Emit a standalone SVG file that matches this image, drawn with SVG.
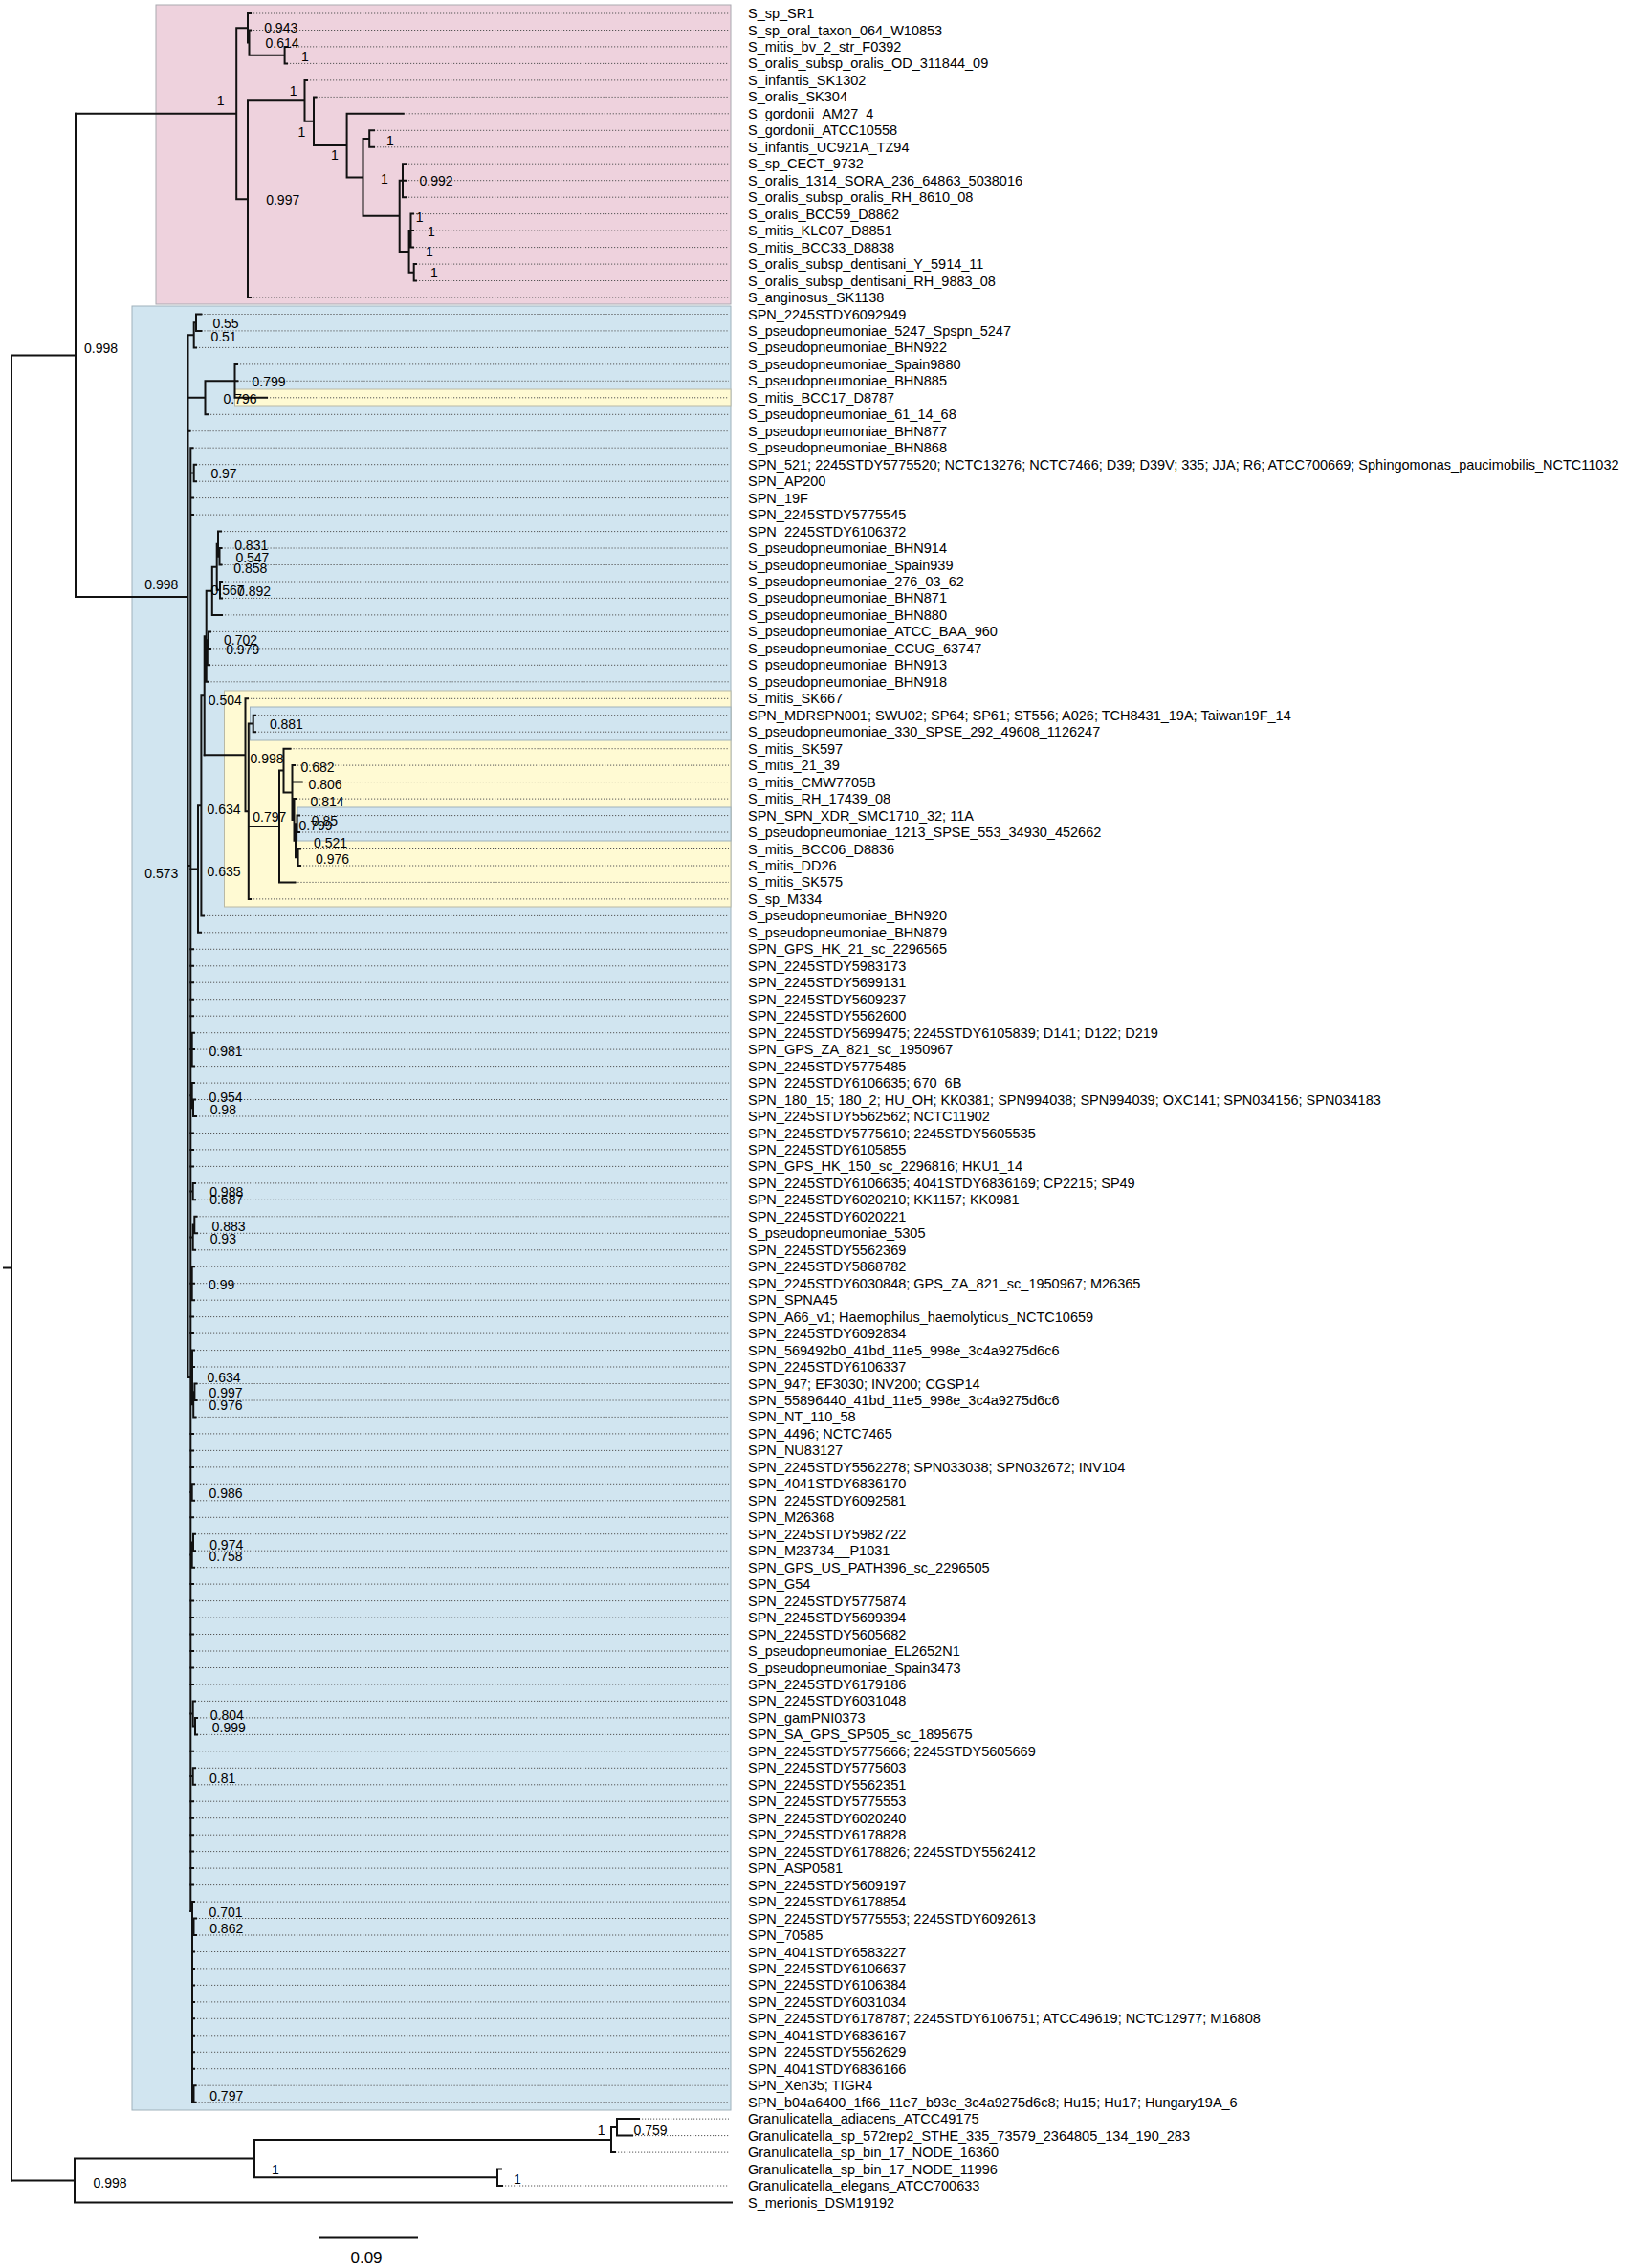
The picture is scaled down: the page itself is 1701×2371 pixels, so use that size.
<svg xmlns="http://www.w3.org/2000/svg" width="1701" height="2371" viewBox="0 0 1701 2371">
<style>
.br{fill:none;stroke:#111;stroke-width:2;stroke-linecap:square}
.dot{fill:none;stroke:#555;stroke-width:1;stroke-dasharray:1.2 1.8}
.tip{font-family:"Liberation Sans",Arial,sans-serif;font-size:14.5px;fill:#000}
.nl{font-family:"Liberation Sans",Arial,sans-serif;font-size:14px;fill:#000;text-anchor:middle}
.pink{fill:#eed2dd;stroke:#a9a9b0;stroke-width:1}
.blue{fill:#d1e5f0;stroke:#9fb1bb;stroke-width:1}
.yel{fill:#fffad3;stroke:#b9b9a5;stroke-width:1}
</style>
<rect width="1701" height="2371" fill="#fff"/>
<g id="boxes">
<rect class="pink" x="163" y="5" width="601" height="313"/>
<rect class="blue" x="138" y="320" width="626" height="1886"/>
<rect class="yel" x="245.5" y="407" width="518.5" height="17"/>
<rect class="yel" x="234.5" y="722" width="529.5" height="226"/>
<rect class="blue" x="261.5" y="739" width="502.5" height="35"/>
<rect class="blue" x="311" y="844" width="453" height="35"/>
</g>
<g id="connectors">
<path class="dot" d="M262 14H762M262 31.5H762M300 48.9H762M300 66.4H762M321 83.9H762M330.5 101.4H762M421.7 118.8H762M391 136.3H762M391 153.8H762M424 171.2H762M424 188.7H762M424 206.2H762M432 223.6H762M432 241.1H762M432 258.6H762M435 276.1H762M435 293.5H762M262 311H762M210.4 328.5H762M210.4 345.9H762M205 363.4H762M248 380.9H762M248.4 398.3H762M279 415.8H762M217 433.3H762M198.5 450.7H762M201.5 468.2H762M205 485.7H762M205 503.2H762M202 520.6H762M202 538.1H762M231 555.6H762M231.5 573H762M231.5 590.5H762M232 608H762M232 625.4H762M232 642.9H762M220 660.4H762M220 677.9H762M219 695.3H762M217.5 712.8H762M259 730.3H762M267 747.7H762M267 765.2H762M303.5 782.7H762M308 800.1H762M315.7 817.6H762M310 835.1H762M313 852.6H762M313 870H762M314 887.5H762M314 905H762M308.4 922.4H762M262 939.9H762M213 957.4H762M210 974.8H762M202 992.3H762M202 1009.8H762M202 1027.2H762M202 1044.7H762M202 1062.2H762M203 1079.7H762M203 1097.1H762M203 1114.6H762M203 1132.1H762M204 1149.5H762M205 1167H762M202 1184.5H762M202 1201.9H762M202 1219.4H762M204 1236.9H762M204 1254.3H762M205.5 1271.8H762M206 1289.3H762M204 1306.8H762M203 1324.2H762M203 1341.7H762M203 1359.2H762M202 1376.6H762M202 1394.1H762M203 1411.6H762M203 1429H762M205.5 1446.5H762M205.5 1464H762M204.5 1481.4H762M202 1498.9H762M202 1516.4H762M202 1533.9H762M203 1551.3H762M203 1568.8H762M202 1586.3H762M204 1603.7H762M204 1621.2H762M203 1638.7H762M202 1656.1H762M202 1673.6H762M202 1691.1H762M202 1708.5H762M202 1726H762M202 1743.5H762M202 1761H762M204 1778.4H762M206 1795.9H762M206 1813.4H762M202 1830.8H762M204 1848.3H762M204 1865.8H762M202 1883.2H762M202 1900.7H762M202 1918.2H762M202 1935.6H762M202 1953.1H762M202 1970.6H762M203 1988.1H762M205 2005.5H762M205 2023H762M203 2040.5H762M203 2057.9H762M203 2075.4H762M203 2092.9H762M203 2110.3H762M203 2127.8H762M203 2145.3H762M203 2162.7H762M204.5 2180.2H762M204.5 2197.7H762M668 2215.1H762M661 2232.6H762M643 2250.1H762M524 2267.5H762M525 2285H762"/>
<path class="br" d="M4 1325.5H12M12 371.4V2279.6M12 371.4H79M79 118.7V624"/>
<path class="br" d="M79 118.7H247.2M247.2 29.3V208.2M247.2 29.3H259M259 14V44.6M259 14H262M259 44.6H260.5M260.5 31.5V57.65M260.5 31.5H262M260.5 57.65H297.6M297.6 48.9V66.4M297.6 48.9H300M297.6 66.4H300M247.2 208.2H259M259 105.3V311M259 311H262M259 105.3H318.5M318.5 83.9V126.75M318.5 83.9H321M318.5 126.75H328M328 101.4V152.1M328 101.4H330.5M328 152.1H362.6M362.6 118.8V185.4M362.6 118.8H421.7M362.6 185.4H379.5M379.5 145V225.8M379.5 145H386.2M386.2 136.3V153.8M386.2 136.3H391M386.2 153.8H391M379.5 225.8H417.7M417.7 188.7V262.95M417.7 188.7H421M421 171.2V206.2M421 171.2H424M421 188.7H424M421 206.2H424M417.7 262.95H427.6M427.6 241.1V284.8M427.6 241.1H429.5M429.5 223.6V258.6M429.5 223.6H432M429.5 241.1H432M429.5 258.6H432M427.6 284.8H432.7M432.7 276.1V293.5M432.7 276.1H435M432.7 293.5H435"/>
<path class="br" d="M79 624H196.5M196.5 350.3V1440M196.5 350.3H202.7M202.7 337.2V363.4M202.7 337.2H205M205 328.5V345.9M205 328.5H210.4M205 345.9H210.4M202.7 363.4H205M196.5 415.8H214.5M214.5 398.3V433.3M214.5 398.3H245.5M245.5 380.9V415.8M245.5 380.9H248M245.5 398.3H248.4M245.5 415.8H279M214.5 433.3H217M196.5 450.7H198.5M196.5 905H199.3M199.3 468.2V1998M199.3 468.2H201.5M199.3 494.4H202.7M202.7 485.7V503.2M202.7 485.7H205M202.7 503.2H205M199.3 520.6H202M199.3 538.1H202"/>
<path class="br" d="M199.3 908.55H207M207 842.3V974.8M207 974.8H210M207 842.3H210.4M210.4 727.25V957.4M210.4 957.4H213M210.4 727.25H213.7M213.7 665.3V789.25M213.7 665.3H215.7M215.7 617.8V712.8M215.7 712.8H217.5M215.7 617.8H221.8M221.8 592.7V642.9M221.8 642.9H232M221.8 592.7H226.7M226.7 568.7V616.7M226.7 568.7H228M228 555.6V581.75M228 555.6H231M228 581.75H229.5M229.5 573V590.5M229.5 573H231.5M229.5 590.5H231.5M226.7 616.7H230M230 608V625.4M230 608H232M230 625.4H232M215.7 682.2H216.8M216.8 669.15V695.3M216.8 695.3H219M216.8 669.15H218M218 660.4V677.9M218 660.4H220M218 677.9H220"/>
<path class="br" d="M213.7 789.25H256.5M256.5 730.3V848.2M256.5 730.3H259M256.5 848.2H259.8M259.8 756.5V939.9M259.8 939.9H262M259.8 756.5H264.7M264.7 747.7V765.2M264.7 747.7H267M264.7 765.2H267M259.8 864H292M292 805.6V922.4M292 922.4H308.4M292 805.6H296.5M296.5 782.7V828.55M296.5 782.7H303.5M296.5 828.55H305.5M305.5 800.1V857M305.5 800.1H308M305.5 817.6H315.7M305.5 857H307.5M307.5 835.1V878.8M307.5 835.1H310M307.5 878.8H309M309 861.3V896.25M309 861.3H310.5M310.5 852.6V870M310.5 852.6H313M310.5 870H313M309 896.25H311.6M311.6 887.5V905M311.6 887.5H314M311.6 905H314"/>
<path class="br" d="M199.3 992.3H202M199.3 1009.8H202M199.3 1027.2H202M199.3 1044.7H202M199.3 1062.2H202M199.3 1097.1H200.7M200.7 1079.7V1114.6M200.7 1079.7H203M200.7 1097.1H203M200.7 1114.6H203M199.3 1145.2H200.7M200.7 1132.1V1158.3M200.7 1132.1H203M200.7 1158.3H202M202 1149.5V1167M202 1149.5H204M202 1167H205M199.3 1184.5H202M199.3 1201.9H202M199.3 1219.4H202M199.3 1245.6H201.7M201.7 1236.9V1254.3M201.7 1236.9H204M201.7 1254.3H204M199.3 1293.6H201.7M201.7 1280.5V1306.8M201.7 1306.8H204M201.7 1280.5H203.3M203.3 1271.8V1289.3M203.3 1271.8H205.5M203.3 1289.3H206M199.3 1341.7H200.7M200.7 1324.2V1359.2M200.7 1324.2H203M200.7 1341.7H203M200.7 1359.2H203M199.3 1376.6H202M199.3 1394.1H202"/>
<path class="br" d="M196.5 1440H201M201 1411.6V1468.3M201 1411.6H203M201 1429H203M201 1468.3H202.2M202.2 1455.3V1481.4M202.2 1481.4H204.5M202.2 1455.3H203.4M203.4 1446.5V1464M203.4 1446.5H205.5M203.4 1464H205.5M199.3 1498.9H202M199.3 1516.4H202M199.3 1533.9H202M199.3 1560H200.7M200.7 1551.3V1568.8M200.7 1551.3H203M200.7 1568.8H203M199.3 1586.3H202M199.3 1625.6H200.7M200.7 1612.5V1638.7M200.7 1638.7H203M200.7 1612.5H202M202 1603.7V1621.2M202 1603.7H204M202 1621.2H204M199.3 1656.1H202M199.3 1673.6H202M199.3 1691.1H202M199.3 1708.5H202M199.3 1726H202M199.3 1743.5H202M199.3 1761H202M199.3 1791.5H201.7M201.7 1778.4V1804.6M201.7 1778.4H204M201.7 1804.6H204M204 1795.9V1813.4M204 1795.9H206M204 1813.4H206M199.3 1830.8H202M199.3 1857H201.7M201.7 1848.3V1865.8M201.7 1848.3H204M201.7 1865.8H204M199.3 1883.2H202M199.3 1900.7H202M199.3 1918.2H202M199.3 1935.6H202M199.3 1953.1H202M199.3 1970.6H202"/>
<path class="br" d="M199.3 1998H201M201 1988.1V2197.7M201 1988.1H203M201 2014.25H202.5M202.5 2005.5V2023M202.5 2005.5H205M202.5 2023H205M201 2040.5H203M201 2057.9H203M201 2075.4H203M201 2092.9H203M201 2110.3H203M201 2127.8H203M201 2145.3H203M201 2162.7H203M201 2189H202.5M202.5 2180.2V2197.7M202.5 2180.2H204.5M202.5 2197.7H204.5"/>
<path class="br" d="M12 2279.6H78M78 2256.6V2302.5M78 2302.5H765M78 2256.6H266M266 2237V2276.3M266 2237H639M639 2223.9V2250.1M639 2250.1H643M639 2223.9H645M645 2215.1V2232.6M645 2215.1H668M645 2232.6H661M266 2276.3H520M520 2267.5V2285M520 2267.5H524M520 2285H525"/>
</g>
<g id="support">
<text class="nl" x="293.7" y="34.3">0.943</text>
<text class="nl" x="295" y="50">0.614</text>
<text class="nl" x="319" y="64.3">1</text>
<text class="nl" x="230.7" y="110">1</text>
<text class="nl" x="306.7" y="100">1</text>
<text class="nl" x="315.4" y="143.3">1</text>
<text class="nl" x="350" y="166.7">1</text>
<text class="nl" x="407.9" y="151.7">1</text>
<text class="nl" x="402" y="191.7">1</text>
<text class="nl" x="456" y="194.3">0.992</text>
<text class="nl" x="438.6" y="231.7">1</text>
<text class="nl" x="451" y="246.7">1</text>
<text class="nl" x="449" y="268">1</text>
<text class="nl" x="454" y="290">1</text>
<text class="nl" x="295.7" y="214">0.997</text>
<text class="nl" x="105.5" y="369">0.998</text>
<text class="nl" x="168.8" y="616">0.998</text>
<text class="nl" x="236" y="343.3">0.55</text>
<text class="nl" x="234" y="356.7">0.51</text>
<text class="nl" x="281" y="404.3">0.799</text>
<text class="nl" x="251" y="421.7">0.796</text>
<text class="nl" x="234" y="500">0.97</text>
<text class="nl" x="262.7" y="575">0.831</text>
<text class="nl" x="263.9" y="587.7">0.547</text>
<text class="nl" x="261.8" y="599">0.858</text>
<text class="nl" x="238" y="622">0.567</text>
<text class="nl" x="265.5" y="623">0.892</text>
<text class="nl" x="251.6" y="674.3">0.702</text>
<text class="nl" x="253.7" y="684.3">0.979</text>
<text class="nl" x="235.3" y="737.3">0.504</text>
<text class="nl" x="299.4" y="762.3">0.881</text>
<text class="nl" x="279" y="797.7">0.998</text>
<text class="nl" x="332" y="806.7">0.682</text>
<text class="nl" x="340" y="825">0.806</text>
<text class="nl" x="342" y="843.3">0.814</text>
<text class="nl" x="234" y="850.7">0.634</text>
<text class="nl" x="281.8" y="859">0.797</text>
<text class="nl" x="339.4" y="862.7">0.85</text>
<text class="nl" x="330" y="868.3">0.799</text>
<text class="nl" x="345.5" y="885.7">0.521</text>
<text class="nl" x="347.5" y="902.7">0.976</text>
<text class="nl" x="234" y="915.7">0.635</text>
<text class="nl" x="168.8" y="917.7">0.573</text>
<text class="nl" x="236" y="1103.8">0.981</text>
<text class="nl" x="236" y="1151.5">0.954</text>
<text class="nl" x="233.3" y="1165">0.98</text>
<text class="nl" x="236.7" y="1250.7">0.988</text>
<text class="nl" x="236.7" y="1258.9">0.687</text>
<text class="nl" x="239" y="1286.6">0.883</text>
<text class="nl" x="233.3" y="1299.7">0.93</text>
<text class="nl" x="231.7" y="1347.9">0.99</text>
<text class="nl" x="234" y="1444.6">0.634</text>
<text class="nl" x="236" y="1461">0.997</text>
<text class="nl" x="236" y="1474.4">0.976</text>
<text class="nl" x="236" y="1565.8">0.986</text>
<text class="nl" x="236.7" y="1619.5">0.974</text>
<text class="nl" x="236" y="1631.7">0.758</text>
<text class="nl" x="237.3" y="1797.9">0.804</text>
<text class="nl" x="239.3" y="1810.5">0.999</text>
<text class="nl" x="232.7" y="1863.6">0.81</text>
<text class="nl" x="236" y="2004.4">0.701</text>
<text class="nl" x="236.7" y="2020.7">0.862</text>
<text class="nl" x="236.7" y="2195.8">0.797</text>
<text class="nl" x="680" y="2231.7">0.759</text>
<text class="nl" x="628.6" y="2231.7">1</text>
<text class="nl" x="288" y="2273">1</text>
<text class="nl" x="541" y="2283">1</text>
<text class="nl" x="115" y="2287">0.998</text>
</g>
<g id="scalebar">
<path class="br" d="M334 2339.5H436"/>
<text x="383" y="2366" font-family="Liberation Sans, Arial, sans-serif" font-size="17" text-anchor="middle">0.09</text>
</g>
<g id="tips">
<g id="t1"><text class="tip" x="782" y="19">S_sp_SR1</text></g>
<g id="t2"><text class="tip" x="782" y="36.5">S_sp_oral_taxon_064_W10853</text></g>
<g id="t3"><text class="tip" x="782" y="53.9">S_mitis_bv_2_str_F0392</text></g>
<g id="t4"><text class="tip" x="782" y="71.4">S_oralis_subsp_oralis_OD_311844_09</text></g>
<g id="t5"><text class="tip" x="782" y="88.9">S_infantis_SK1302</text></g>
<g id="t6"><text class="tip" x="782" y="106.4">S_oralis_SK304</text></g>
<g id="t7"><text class="tip" x="782" y="123.8">S_gordonii_AM27_4</text></g>
<g id="t8"><text class="tip" x="782" y="141.3">S_gordonii_ATCC10558</text></g>
<g id="t9"><text class="tip" x="782" y="158.8">S_infantis_UC921A_TZ94</text></g>
<g id="t10"><text class="tip" x="782" y="176.2">S_sp_CECT_9732</text></g>
<g id="t11"><text class="tip" x="782" y="193.7">S_oralis_1314_SORA_236_64863_5038016</text></g>
<g id="t12"><text class="tip" x="782" y="211.2">S_oralis_subsp_oralis_RH_8610_08</text></g>
<g id="t13"><text class="tip" x="782" y="228.6">S_oralis_BCC59_D8862</text></g>
<g id="t14"><text class="tip" x="782" y="246.1">S_mitis_KLC07_D8851</text></g>
<g id="t15"><text class="tip" x="782" y="263.6">S_mitis_BCC33_D8838</text></g>
<g id="t16"><text class="tip" x="782" y="281.1">S_oralis_subsp_dentisani_Y_5914_11</text></g>
<g id="t17"><text class="tip" x="782" y="298.5">S_oralis_subsp_dentisani_RH_9883_08</text></g>
<g id="t18"><text class="tip" x="782" y="316">S_anginosus_SK1138</text></g>
<g id="t19"><text class="tip" x="782" y="333.5">SPN_2245STDY6092949</text></g>
<g id="t20"><text class="tip" x="782" y="350.9">S_pseudopneumoniae_5247_Spspn_5247</text></g>
<g id="t21"><text class="tip" x="782" y="368.4">S_pseudopneumoniae_BHN922</text></g>
<g id="t22"><text class="tip" x="782" y="385.9">S_pseudopneumoniae_Spain9880</text></g>
<g id="t23"><text class="tip" x="782" y="403.3">S_pseudopneumoniae_BHN885</text></g>
<g id="t24"><text class="tip" x="782" y="420.8">S_mitis_BCC17_D8787</text></g>
<g id="t25"><text class="tip" x="782" y="438.3">S_pseudopneumoniae_61_14_68</text></g>
<g id="t26"><text class="tip" x="782" y="455.7">S_pseudopneumoniae_BHN877</text></g>
<g id="t27"><text class="tip" x="782" y="473.2">S_pseudopneumoniae_BHN868</text></g>
<g id="t28"><text class="tip" x="782" y="490.7">SPN_521; 2245STDY5775520; NCTC13276; NCTC7466; D39; D39V; 335; JJA; R6; ATCC700669; Sphingomonas_paucimobilis_NCTC11032</text></g>
<g id="t29"><text class="tip" x="782" y="508.2">SPN_AP200</text></g>
<g id="t30"><text class="tip" x="782" y="525.6">SPN_19F</text></g>
<g id="t31"><text class="tip" x="782" y="543.1">SPN_2245STDY5775545</text></g>
<g id="t32"><text class="tip" x="782" y="560.6">SPN_2245STDY6106372</text></g>
<g id="t33"><text class="tip" x="782" y="578">S_pseudopneumoniae_BHN914</text></g>
<g id="t34"><text class="tip" x="782" y="595.5">S_pseudopneumoniae_Spain939</text></g>
<g id="t35"><text class="tip" x="782" y="613">S_pseudopneumoniae_276_03_62</text></g>
<g id="t36"><text class="tip" x="782" y="630.4">S_pseudopneumoniae_BHN871</text></g>
<g id="t37"><text class="tip" x="782" y="647.9">S_pseudopneumoniae_BHN880</text></g>
<g id="t38"><text class="tip" x="782" y="665.4">S_pseudopneumoniae_ATCC_BAA_960</text></g>
<g id="t39"><text class="tip" x="782" y="682.9">S_pseudopneumoniae_CCUG_63747</text></g>
<g id="t40"><text class="tip" x="782" y="700.3">S_pseudopneumoniae_BHN913</text></g>
<g id="t41"><text class="tip" x="782" y="717.8">S_pseudopneumoniae_BHN918</text></g>
<g id="t42"><text class="tip" x="782" y="735.3">S_mitis_SK667</text></g>
<g id="t43"><text class="tip" x="782" y="752.7">SPN_MDRSPN001; SWU02; SP64; SP61; ST556; A026; TCH8431_19A; Taiwan19F_14</text></g>
<g id="t44"><text class="tip" x="782" y="770.2">S_pseudopneumoniae_330_SPSE_292_49608_1126247</text></g>
<g id="t45"><text class="tip" x="782" y="787.7">S_mitis_SK597</text></g>
<g id="t46"><text class="tip" x="782" y="805.1">S_mitis_21_39</text></g>
<g id="t47"><text class="tip" x="782" y="822.6">S_mitis_CMW7705B</text></g>
<g id="t48"><text class="tip" x="782" y="840.1">S_mitis_RH_17439_08</text></g>
<g id="t49"><text class="tip" x="782" y="857.6">SPN_SPN_XDR_SMC1710_32; 11A</text></g>
<g id="t50"><text class="tip" x="782" y="875">S_pseudopneumoniae_1213_SPSE_553_34930_452662</text></g>
<g id="t51"><text class="tip" x="782" y="892.5">S_mitis_BCC06_D8836</text></g>
<g id="t52"><text class="tip" x="782" y="910">S_mitis_DD26</text></g>
<g id="t53"><text class="tip" x="782" y="927.4">S_mitis_SK575</text></g>
<g id="t54"><text class="tip" x="782" y="944.9">S_sp_M334</text></g>
<g id="t55"><text class="tip" x="782" y="962.4">S_pseudopneumoniae_BHN920</text></g>
<g id="t56"><text class="tip" x="782" y="979.8">S_pseudopneumoniae_BHN879</text></g>
<g id="t57"><text class="tip" x="782" y="997.3">SPN_GPS_HK_21_sc_2296565</text></g>
<g id="t58"><text class="tip" x="782" y="1014.8">SPN_2245STDY5983173</text></g>
<g id="t59"><text class="tip" x="782" y="1032.2">SPN_2245STDY5699131</text></g>
<g id="t60"><text class="tip" x="782" y="1049.7">SPN_2245STDY5609237</text></g>
<g id="t61"><text class="tip" x="782" y="1067.2">SPN_2245STDY5562600</text></g>
<g id="t62"><text class="tip" x="782" y="1084.7">SPN_2245STDY5699475; 2245STDY6105839; D141; D122; D219</text></g>
<g id="t63"><text class="tip" x="782" y="1102.1">SPN_GPS_ZA_821_sc_1950967</text></g>
<g id="t64"><text class="tip" x="782" y="1119.6">SPN_2245STDY5775485</text></g>
<g id="t65"><text class="tip" x="782" y="1137.1">SPN_2245STDY6106635; 670_6B</text></g>
<g id="t66"><text class="tip" x="782" y="1154.5">SPN_180_15; 180_2; HU_OH; KK0381; SPN994038; SPN994039; OXC141; SPN034156; SPN034183</text></g>
<g id="t67"><text class="tip" x="782" y="1172">SPN_2245STDY5562562; NCTC11902</text></g>
<g id="t68"><text class="tip" x="782" y="1189.5">SPN_2245STDY5775610; 2245STDY5605535</text></g>
<g id="t69"><text class="tip" x="782" y="1206.9">SPN_2245STDY6105855</text></g>
<g id="t70"><text class="tip" x="782" y="1224.4">SPN_GPS_HK_150_sc_2296816; HKU1_14</text></g>
<g id="t71"><text class="tip" x="782" y="1241.9">SPN_2245STDY6106635; 4041STDY6836169; CP2215; SP49</text></g>
<g id="t72"><text class="tip" x="782" y="1259.3">SPN_2245STDY6020210; KK1157; KK0981</text></g>
<g id="t73"><text class="tip" x="782" y="1276.8">SPN_2245STDY6020221</text></g>
<g id="t74"><text class="tip" x="782" y="1294.3">S_pseudopneumoniae_5305</text></g>
<g id="t75"><text class="tip" x="782" y="1311.8">SPN_2245STDY5562369</text></g>
<g id="t76"><text class="tip" x="782" y="1329.2">SPN_2245STDY5868782</text></g>
<g id="t77"><text class="tip" x="782" y="1346.7">SPN_2245STDY6030848; GPS_ZA_821_sc_1950967; M26365</text></g>
<g id="t78"><text class="tip" x="782" y="1364.2">SPN_SPNA45</text></g>
<g id="t79"><text class="tip" x="782" y="1381.6">SPN_A66_v1; Haemophilus_haemolyticus_NCTC10659</text></g>
<g id="t80"><text class="tip" x="782" y="1399.1">SPN_2245STDY6092834</text></g>
<g id="t81"><text class="tip" x="782" y="1416.6">SPN_569492b0_41bd_11e5_998e_3c4a9275d6c6</text></g>
<g id="t82"><text class="tip" x="782" y="1434">SPN_2245STDY6106337</text></g>
<g id="t83"><text class="tip" x="782" y="1451.5">SPN_947; EF3030; INV200; CGSP14</text></g>
<g id="t84"><text class="tip" x="782" y="1469">SPN_55896440_41bd_11e5_998e_3c4a9275d6c6</text></g>
<g id="t85"><text class="tip" x="782" y="1486.4">SPN_NT_110_58</text></g>
<g id="t86"><text class="tip" x="782" y="1503.9">SPN_4496; NCTC7465</text></g>
<g id="t87"><text class="tip" x="782" y="1521.4">SPN_NU83127</text></g>
<g id="t88"><text class="tip" x="782" y="1538.9">SPN_2245STDY5562278; SPN033038; SPN032672; INV104</text></g>
<g id="t89"><text class="tip" x="782" y="1556.3">SPN_4041STDY6836170</text></g>
<g id="t90"><text class="tip" x="782" y="1573.8">SPN_2245STDY6092581</text></g>
<g id="t91"><text class="tip" x="782" y="1591.3">SPN_M26368</text></g>
<g id="t92"><text class="tip" x="782" y="1608.7">SPN_2245STDY5982722</text></g>
<g id="t93"><text class="tip" x="782" y="1626.2">SPN_M23734__P1031</text></g>
<g id="t94"><text class="tip" x="782" y="1643.7">SPN_GPS_US_PATH396_sc_2296505</text></g>
<g id="t95"><text class="tip" x="782" y="1661.1">SPN_G54</text></g>
<g id="t96"><text class="tip" x="782" y="1678.6">SPN_2245STDY5775874</text></g>
<g id="t97"><text class="tip" x="782" y="1696.1">SPN_2245STDY5699394</text></g>
<g id="t98"><text class="tip" x="782" y="1713.5">SPN_2245STDY5605682</text></g>
<g id="t99"><text class="tip" x="782" y="1731">S_pseudopneumoniae_EL2652N1</text></g>
<g id="t100"><text class="tip" x="782" y="1748.5">S_pseudopneumoniae_Spain3473</text></g>
<g id="t101"><text class="tip" x="782" y="1766">SPN_2245STDY6179186</text></g>
<g id="t102"><text class="tip" x="782" y="1783.4">SPN_2245STDY6031048</text></g>
<g id="t103"><text class="tip" x="782" y="1800.9">SPN_gamPNI0373</text></g>
<g id="t104"><text class="tip" x="782" y="1818.4">SPN_SA_GPS_SP505_sc_1895675</text></g>
<g id="t105"><text class="tip" x="782" y="1835.8">SPN_2245STDY5775666; 2245STDY5605669</text></g>
<g id="t106"><text class="tip" x="782" y="1853.3">SPN_2245STDY5775603</text></g>
<g id="t107"><text class="tip" x="782" y="1870.8">SPN_2245STDY5562351</text></g>
<g id="t108"><text class="tip" x="782" y="1888.2">SPN_2245STDY5775553</text></g>
<g id="t109"><text class="tip" x="782" y="1905.7">SPN_2245STDY6020240</text></g>
<g id="t110"><text class="tip" x="782" y="1923.2">SPN_2245STDY6178828</text></g>
<g id="t111"><text class="tip" x="782" y="1940.6">SPN_2245STDY6178826; 2245STDY5562412</text></g>
<g id="t112"><text class="tip" x="782" y="1958.1">SPN_ASP0581</text></g>
<g id="t113"><text class="tip" x="782" y="1975.6">SPN_2245STDY5609197</text></g>
<g id="t114"><text class="tip" x="782" y="1993.1">SPN_2245STDY6178854</text></g>
<g id="t115"><text class="tip" x="782" y="2010.5">SPN_2245STDY5775553; 2245STDY6092613</text></g>
<g id="t116"><text class="tip" x="782" y="2028">SPN_70585</text></g>
<g id="t117"><text class="tip" x="782" y="2045.5">SPN_4041STDY6583227</text></g>
<g id="t118"><text class="tip" x="782" y="2062.9">SPN_2245STDY6106637</text></g>
<g id="t119"><text class="tip" x="782" y="2080.4">SPN_2245STDY6106384</text></g>
<g id="t120"><text class="tip" x="782" y="2097.9">SPN_2245STDY6031034</text></g>
<g id="t121"><text class="tip" x="782" y="2115.3">SPN_2245STDY6178787; 2245STDY6106751; ATCC49619; NCTC12977; M16808</text></g>
<g id="t122"><text class="tip" x="782" y="2132.8">SPN_4041STDY6836167</text></g>
<g id="t123"><text class="tip" x="782" y="2150.3">SPN_2245STDY5562629</text></g>
<g id="t124"><text class="tip" x="782" y="2167.7">SPN_4041STDY6836166</text></g>
<g id="t125"><text class="tip" x="782" y="2185.2">SPN_Xen35; TIGR4</text></g>
<g id="t126"><text class="tip" x="782" y="2202.7">SPN_b04a6400_1f66_11e7_b93e_3c4a9275d6c8; Hu15; Hu17; Hungary19A_6</text></g>
<g id="t127"><text class="tip" x="782" y="2220.1">Granulicatella_adiacens_ATCC49175</text></g>
<g id="t128"><text class="tip" x="782" y="2237.6">Granulicatella_sp_572rep2_STHE_335_73579_2364805_134_190_283</text></g>
<g id="t129"><text class="tip" x="782" y="2255.1">Granulicatella_sp_bin_17_NODE_16360</text></g>
<g id="t130"><text class="tip" x="782" y="2272.5">Granulicatella_sp_bin_17_NODE_11996</text></g>
<g id="t131"><text class="tip" x="782" y="2290">Granulicatella_elegans_ATCC700633</text></g>
<g id="t132"><text class="tip" x="782" y="2307.5">S_merionis_DSM19192</text></g>
</g>
</svg>
